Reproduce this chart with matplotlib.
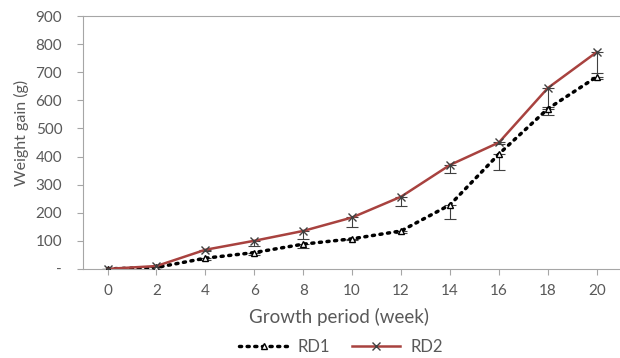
import matplotlib.pyplot as plt
import numpy as np

# data
weeks = [0, 2, 4, 6, 8, 10, 12, 14, 16, 18, 20]
rd1 = [0, 5, 38, 58, 88, 107, 135, 228, 409, 570, 684]
rd1_err = [0, 0, 5, 8, 12, 6, 8, 50, 56, 22, 8]
rd2 = [0, 10, 68, 100, 135, 183, 257, 370, 450, 644, 772]
rd2_err = [0, 0, 5, 20, 28, 33, 33, 30, 5, 69, 73]
yticks = [0, 100, 200, 300, 400, 500, 600, 700, 800, 900]
ytick_labels = ["-", "100", "200", "300", "400", "500", "600", "700", "800", "900"]

plt.rcParams["font.family"] = ["Lato", "DejaVu Sans"]
gray = "#595959"
axis_gray = "#A6A6A6"
red = "#A8423F"

fig = plt.figure(figsize=(6.2, 3.58), dpi=100)
ax = fig.add_axes([0.134, 0.249, 0.866, 0.706])

x = np.array(weeks)

# error bars (minus side only)
ax.errorbar(x, rd1, yerr=[rd1_err, [0] * len(x)], fmt="none", ecolor="#404040",
            elinewidth=0.8, capsize=4, capthick=0.8, zorder=2)
ax.errorbar(x, rd2, yerr=[rd2_err, [0] * len(x)], fmt="none", ecolor="#404040",
            elinewidth=0.8, capsize=4, capthick=0.8, zorder=2)

l1, = ax.plot(x, rd1, color="black", linewidth=2.5, linestyle=(0, (0.6, 1.6)),
              dash_capstyle="round", marker="^", markersize=5,
              markerfacecolor="white", markeredgecolor="black", markeredgewidth=1,
              label="RD1", zorder=3)
l2, = ax.plot(x, rd2, color=red, linewidth=1.8, marker="x", markersize=6,
              markeredgecolor="#404040", markeredgewidth=1, label="RD2", zorder=4)

ax.set_xlim(-1, 20.95)
ax.set_ylim(0, 900)
ax.set_xticks(weeks)
ax.set_xticklabels([str(w) for w in weeks])
ax.set_yticks(yticks)
ax.set_yticklabels(ytick_labels)

ax.spines["right"].set_visible(False)
for side in ["left", "bottom", "top"]:
    ax.spines[side].set_color(axis_gray)
ax.tick_params(axis="y", length=4, color=axis_gray, labelsize=11, labelcolor=gray, pad=11)
ax.tick_params(axis="x", length=4, color=axis_gray, labelsize=11, labelcolor=gray, pad=7)

ax.set_xlabel("Growth period (week)", fontsize=13.5, color=gray)
ax.set_ylabel("Weight gain (g)", fontsize=11.5, color=gray)
ax.xaxis.set_label_coords(0.477, -0.155)
ax.yaxis.set_label_coords(-0.1, 0.537)

fig.legend(handles=[l1, l2], loc="center", bbox_to_anchor=(0.55, 0.03),
           ncol=2, frameon=False, fontsize=12, labelcolor=gray,
           handlelength=2.9, handletextpad=0.6, columnspacing=1.3)

fig.savefig("out.png", dpi=100)
